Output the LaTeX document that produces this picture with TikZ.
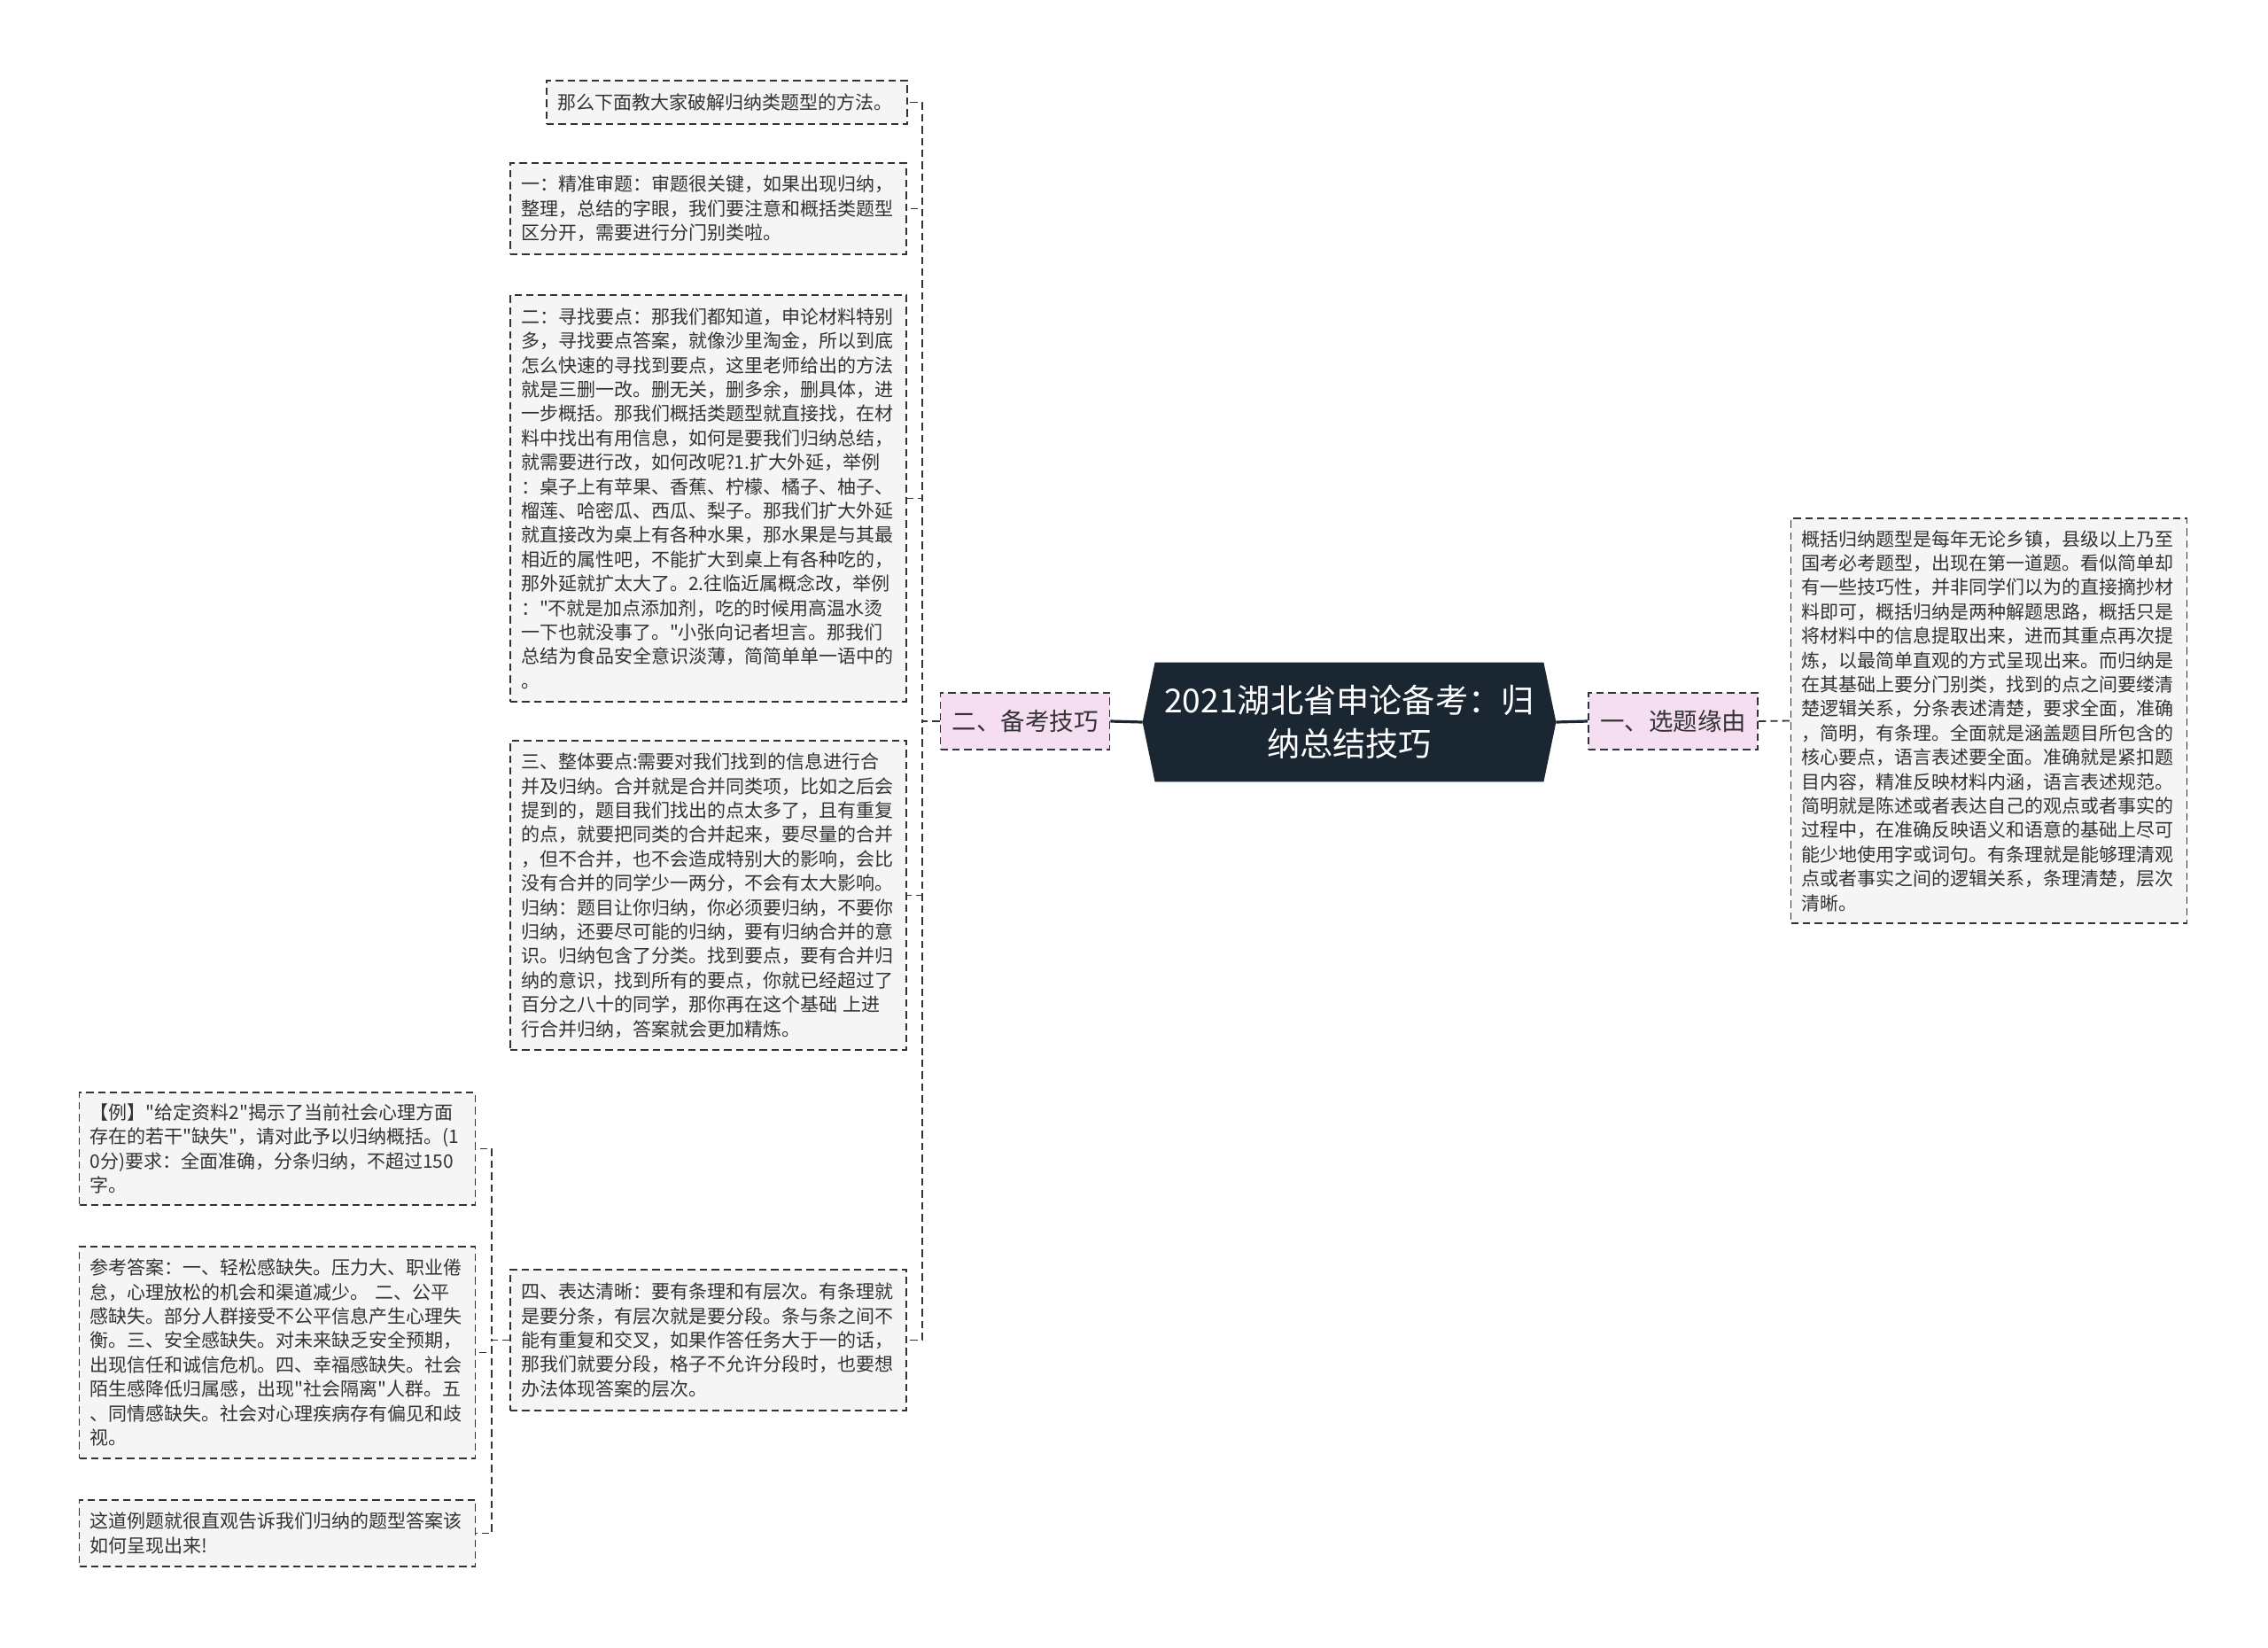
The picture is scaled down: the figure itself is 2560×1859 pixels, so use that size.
\documentclass[tikz,border=0pt]{standalone}
\usepackage{fontspec}
\setmainfont{Noto Sans CJK SC}[Ligatures=TeXOff]
\usetikzlibrary{backgrounds}

\definecolor{rootbg}{RGB}{27,38,51}
\definecolor{pinkbg}{RGB}{246,222,242}
\definecolor{leafbg}{RGB}{245,245,245}
\definecolor{inkgray}{RGB}{51,51,51}

\tikzset{
  dashbox/.style={draw=inkgray, dash pattern=on 4.2pt off 2.5pt, line width=0.9pt},
  leaf/.style={dashbox, fill=leafbg, text=inkgray, align=left, text width=211.5pt,
               inner xsep=6pt, inner ysep=0pt, font=\fontsize{10.5}{13.7}\selectfont},
  topic/.style={dashbox, fill=pinkbg, text=inkgray, inner sep=0pt,
                minimum width=95.5pt, minimum height=32pt, font=\fontsize{13.75}{16}\selectfont},
  root/.style={text=white, align=center, inner sep=0pt, minimum width=219pt,
               minimum height=67pt, font=\fontsize{18.6}{24.5}\selectfont},
  link/.style={inkgray, dash pattern=on 4.2pt off 2.5pt, line width=0.9pt},
  rootlink/.style={rootbg, line width=1.6pt}
}

\begin{document}
\begin{tikzpicture}[x=0.5pt,y=-0.5pt]
  \useasboundingbox (0,0) rectangle (2560,1859);

  % centre and the two topics
  \node[root] (root) at (1523,815) {2021湖北省申论备考：归\\纳总结技巧};
  \coordinate (rootw) at ([xshift=-7pt]root.west);
  \coordinate (roote) at ([xshift=7pt]root.east);
  \begin{scope}[on background layer]
    \fill[rootbg] (root.north west) -- (root.north east) -- (roote)
       -- (root.south east) -- (root.south west) -- (rootw) -- cycle;
  \end{scope}

  \node[topic] (bk) at (1157,814) {二、备考技巧};
  \node[topic] (xt) at (1888.5,814) {一、选题缘由};

  % left branch
  \node[leaf, text width=191.5pt, minimum height=24.5pt] (fa) at (820.5,115.5)
     {那么下面教大家破解归纳类题型的方法。};
  \node[leaf, minimum height=51.5pt] (s1) at (799.5,235.5)
     {一：精准审题：审题很关键，如果出现归纳，\\
      整理，总结的字眼，我们要注意和概括类题型\\
      区分开，需要进行分门别类啦。};
  \node[leaf, minimum height=229.5pt] (s2) at (799.5,562.5)
     {二：寻找要点：那我们都知道，申论材料特别\\
      多，寻找要点答案，就像沙里淘金，所以到底\\
      怎么快速的寻找到要点，这里老师给出的方法\\
      就是三删一改。删无关，删多余，删具体，进\\
      一步概括。那我们概括类题型就直接找，在材\\
      料中找出有用信息，如何是要我们归纳总结，\\
      就需要进行改，如何改呢?1.扩大外延，举例\\
      ：桌子上有苹果、香蕉、柠檬、橘子、柚子、\\
      榴莲、哈密瓜、西瓜、梨子。那我们扩大外延\\
      就直接改为桌上有各种水果，那水果是与其最\\
      相近的属性吧，不能扩大到桌上有各种吃的，\\
      那外延就扩太大了。2.往临近属概念改，举例\\
      ："不就是加点添加剂，吃的时候用高温水烫\\
      一下也就没事了。"小张向记者坦言。那我们\\
      总结为食品安全意识淡薄，简简单单一语中的\\
      。};
  \node[leaf, minimum height=174.5pt] (s3) at (799.5,1010.5)
     {三、整体要点:需要对我们找到的信息进行合\\
      并及归纳。合并就是合并同类项，比如之后会\\
      提到的，题目我们找出的点太多了，且有重复\\
      的点，就要把同类的合并起来，要尽量的合并\\
      ，但不合并，也不会造成特别大的影响，会比\\
      没有合并的同学少一两分，不会有太大影响。\\
      归纳：题目让你归纳，你必须要归纳，不要你\\
      归纳，还要尽可能的归纳，要有归纳合并的意\\
      识。归纳包含了分类。找到要点，要有合并归\\
      纳的意识，找到所有的要点，你就已经超过了\\
      百分之八十的同学，那你再在这个基础 上进\\
      行合并归纳，答案就会更加精炼。};
  \node[leaf, minimum height=79.5pt] (s4) at (799.5,1512.5)
     {四、表达清晰：要有条理和有层次。有条理就\\
      是要分条，有层次就是要分段。条与条之间不\\
      能有重复和交叉，如果作答任务大于一的话，\\
      那我们就要分段，格子不允许分段时，也要想\\
      办法体现答案的层次。};

  \node[leaf, minimum height=63.5pt] (li) at (313,1296.5)
     {【例】"给定资料2"揭示了当前社会心理方面\\
      存在的若干"缺失"，请对此予以归纳概括。(1\\
      0分)要求：全面准确，分条归纳，不超过150\\
      字。};
  \node[leaf, minimum height=119.5pt] (da) at (313,1526.5)
     {参考答案：一、轻松感缺失。压力大、职业倦\\
      怠，心理放松的机会和渠道减少。 二、公平\\
      感缺失。部分人群接受不公平信息产生心理失\\
      衡。三、安全感缺失。对未来缺乏安全预期，\\
      出现信任和诚信危机。四、幸福感缺失。社会\\
      陌生感降低归属感，出现"社会隔离"人群。五\\
      、同情感缺失。社会对心理疾病存有偏见和歧\\
      视。};
  \node[leaf, minimum height=37.5pt] (zh) at (313,1730.5)
     {这道例题就很直观告诉我们归纳的题型答案该\\
      如何呈现出来!};

  % right branch
  \node[leaf, minimum height=228.5pt] (gk) at (2245,813.5)
     {概括归纳题型是每年无论乡镇，县级以上乃至\\
      国考必考题型，出现在第一道题。看似简单却\\
      有一些技巧性，并非同学们以为的直接摘抄材\\
      料即可，概括归纳是两种解题思路，概括只是\\
      将材料中的信息提取出来，进而其重点再次提\\
      炼，以最简单直观的方式呈现出来。而归纳是\\
      在其基础上要分门别类，找到的点之间要缕清\\
      楚逻辑关系，分条表述清楚，要求全面，准确\\
      ，简明，有条理。全面就是涵盖题目所包含的\\
      核心要点，语言表述要全面。准确就是紧扣题\\
      目内容，精准反映材料内涵，语言表述规范。\\
      简明就是陈述或者表达自己的观点或者事实的\\
      过程中，在准确反映语义和语意的基础上尽可\\
      能少地使用字或词句。有条理就是能够理清观\\
      点或者事实之间的逻辑关系，条理清楚，层次\\
      清晰。};

  % connectors
  \draw[rootlink] (bk.east) -- (rootw);
  \draw[rootlink] (roote) -- (xt.west);
  \draw[link] (xt.east) -- (gk.west);
  \foreach \n in {fa,s1,s2,s3,s4}
     \draw[link] (bk.west) -- ++(-10pt,0) |- (\n.east);
  \foreach \n in {li,da,zh}
     \draw[link] (s4.west) -- ++(-10pt,0) |- (\n.east);
\end{tikzpicture}
\end{document}
